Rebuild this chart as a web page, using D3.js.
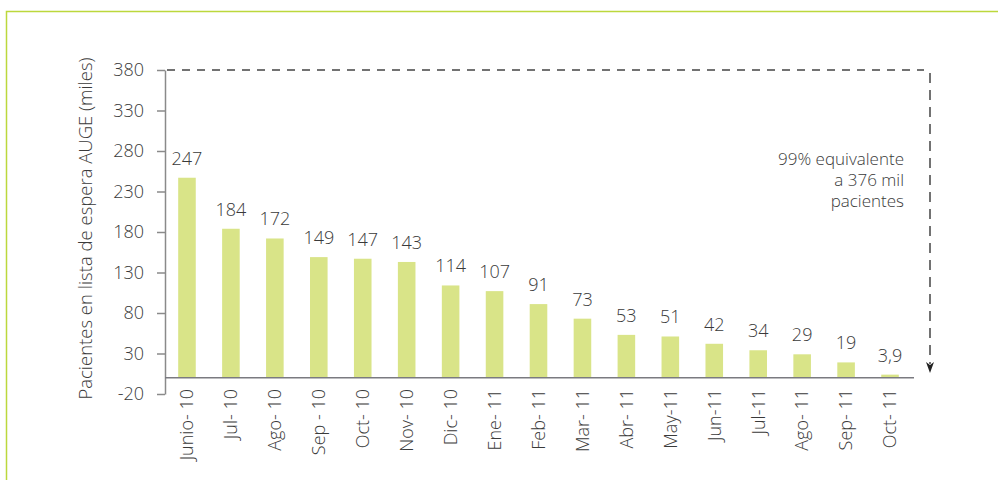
<!DOCTYPE html>
<html>
<head>
<meta charset="utf-8">
<script src="https://cdn.jsdelivr.net/npm/d3@7"></script>
<style>
  body { margin: 0; background: #fff; }
  svg { display: block; font-family: "Open Sans", sans-serif; font-weight: 300; }
  text { fill: #3a3a3a; }
</style>
</head>
<body>
<svg id="chart" width="998" height="480"></svg>
<script>
// months as printed under the bars
const months = ['Junio- 10', 'Jul- 10', 'Ago- 10', 'Sep - 10', 'Oct- 10', 'Nov- 10',
  'Dic- 10', 'Ene- 11', 'Feb- 11', 'Mar- 11', 'Abr- 11', 'May-11', 'Jun-11',
  'Jul-11', 'Ago- 11', 'Sep- 11', 'Oct- 11'];
// patients waiting (thousands)
const patients = [247, 184, 172, 149, 147, 143, 114, 107, 91, 73, 53, 51, 42, 34, 29, 19, 3.9];
const yTicks = [-20, 30, 80, 130, 180, 230, 280, 330, 380];
const note = ['99% equivalente', 'a 376 mil', 'pacientes'];

const svg = d3.select('#chart');

// light green frame, top and left only
svg.append('path')
    .attr('d', 'M6.5,480V11.5H998')
    .attr('fill', 'none')
    .attr('stroke', '#bcd83c')
    .attr('stroke-width', 1.5);

const plot = {left: 165, right: 912, top: 70, bottom: 394};

const x = d3.scaleBand()
    .domain(months)
    .range([plot.left, plot.right])
    .paddingInner(0.6)
    .paddingOuter(0.3);

const y = d3.scaleLinear()
    .domain([-20, 380])
    .range([plot.bottom, plot.top]);

const data = months.map((m, i) => ({month: m, value: patients[i]}));

// bars
svg.append('g')
  .selectAll('rect')
  .data(data)
  .join('rect')
    .attr('x', d => x(d.month))
    .attr('width', x.bandwidth())
    .attr('y', d => y(d.value))
    .attr('height', d => y(0) - y(d.value))
    .attr('fill', '#d9e488');

// value labels
svg.append('g')
    .attr('font-size', 18)
    .attr('text-anchor', 'middle')
  .selectAll('text')
  .data(data)
  .join('text')
    .attr('x', d => x(d.month) + x.bandwidth() / 2)
    .attr('y', d => y(d.value) - 13)
    .text(d => String(d.value).replace('.', ','));

// y axis
const yAxis = svg.append('g')
    .attr('transform', `translate(${plot.left},0)`)
    .call(d3.axisLeft(y).tickValues(yTicks).tickFormat(d => String(d))
        .tickSize(8).tickPadding(13).tickSizeOuter(0))
    .call(g => g.select('.domain').attr('stroke', '#8a8a8a').attr('stroke-width', 1.5))
    .call(g => g.selectAll('.tick line').attr('stroke', '#8a8a8a').attr('stroke-width', 1.5));
yAxis.selectAll('text')
    .attr('font-size', 18)
    .attr('font-family', '"Open Sans", sans-serif')
    .attr('font-weight', 300)
    .attr('fill', '#3a3a3a');

// zero baseline
svg.append('line')
    .attr('x1', plot.left).attr('x2', 914)
    .attr('y1', y(0)).attr('y2', y(0))
    .attr('stroke', '#7a7a80')
    .attr('stroke-width', 1.5);

// x labels, rotated
svg.append('g')
    .attr('font-size', 18)
  .selectAll('text')
  .data(months)
  .join('text')
    .attr('text-anchor', 'end')
    .attr('transform', d => `translate(${x(d) + x.bandwidth() / 2},389) rotate(-90)`)
    .attr('dy', '0.35em')
    .text(d => d);

// y title
svg.append('text')
    .attr('font-size', 18.5)
    .attr('text-anchor', 'middle')
    .attr('transform', `translate(86,${(57 + 400) / 2}) rotate(-90)`)
    .attr('dy', '0.35em')
    .text('Pacientes en lista de espera AUGE (miles)');

// dashed bracket with arrow
svg.append('path')
    .attr('d', `M${plot.left + 2},${y(380)}H924`)
    .attr('fill', 'none')
    .attr('stroke', '#444')
    .attr('stroke-width', 1.5)
    .attr('stroke-dasharray', '8,7');

svg.append('path')
    .attr('d', `M930,${y(380) + 3}V364`)
    .attr('fill', 'none')
    .attr('stroke', '#444')
    .attr('stroke-width', 1.5)
    .attr('stroke-dasharray', '10,7');

svg.append('path')
    .attr('d', 'M926,362L930,365L934,362L930,373Z')
    .attr('fill', '#222');

svg.append('g')
    .attr('font-size', 17)
    .attr('text-anchor', 'end')
  .selectAll('text')
  .data(note)
  .join('text')
    .attr('x', 904)
    .attr('y', (d, i) => 165 + i * 21)
    .text(d => d);
</script>
</body>
</html>
